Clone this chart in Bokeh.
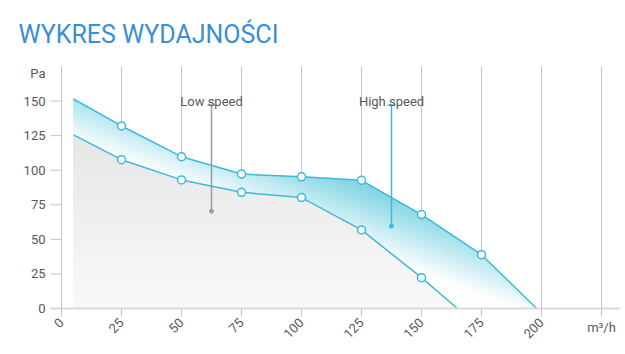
import numpy as np
from math import pi
from bokeh.plotting import figure
from bokeh.models import FixedTicker, LinearAxis, Range1d
from bokeh.core.properties import value
from bokeh.embed import file_html
from bokeh.resources import INLINE

# ---------------- data ----------------
title_text = "WYKRES WYDAJNOŚCI"
x_ticks = [0, 25, 50, 75, 100, 125, 150, 175, 200, 225]
y_ticks = [0, 25, 50, 75, 100, 125, 150]
x_unit = "m³/h"
y_unit = "Pa"
x_unit_pos = 225
y_unit_pos = 170

flow_high = [5, 25, 50, 75, 100, 125, 150, 175, 198]
pres_high = [151.5, 132, 109.8, 97.2, 95.2, 92.7, 67.9, 38.9, 0]
flow_low = [5, 25, 50, 75, 100, 125, 150, 165]
pres_low = [125.6, 107.6, 93, 84, 80.2, 56.8, 22.3, 0]

speed_labels = ["Low speed", "High speed"]
speed_x = [62.5, 137.5]
speed_top = [147, 147]
speed_point = [70.3, 59.6]

# ---------------- style ----------------
LINE = "#3cb9dc"
ANN_COLORS = ["#9b9b9b", "#3cb9dc"]
TEXT = "#595959"
GRID = "#c4c4c4"
FONT = "Roboto"
CYAN = np.array([135, 214, 228])
WHITE = np.array([255, 255, 255])
GRAY_TOP = np.array([230, 230, 230])
GRAY_BOTTOM = np.array([249, 249, 249])
X_START, X_END = -4.583, 232.917


def hexcol(c):
    c = np.clip(np.round(c), 0, 255).astype(int)
    return "#%02x%02x%02x" % tuple(c)


p = figure(width=625, height=354, output_backend="svg", toolbar_location=None,
           x_range=Range1d(X_START, X_END), y_range=Range1d(0, 175),
           min_border_left=50, min_border_right=5, min_border_top=66,
           min_border_bottom=46, title=title_text)
p.outline_line_color = None
p.background_fill_color = "white"
p.border_fill_color = "white"

p.title.text_font = FONT
p.title.text_font_style = "normal"
p.title.text_font_size = "25px"
p.title.text_color = "#3a8fd1"
p.title.align = "left"
p.title.offset = -32
p.title.standoff = 35

# ---------- gradient fills ----------
xs = np.union1d(np.linspace(flow_high[0], flow_high[-1], 900),
                np.array(flow_high + flow_low, dtype=float))
hi = np.interp(xs, flow_high, pres_high)
lo = np.interp(xs, flow_low, pres_low, right=0.0)
xg = xs[xs <= flow_low[-1]]
log = np.interp(xg, flow_low, pres_low)

N = 40
gtop = max(pres_low)
for k in range(N):
    y0 = gtop * k / N
    t = (k + 0.5) / N
    col = GRAY_BOTTOM + (GRAY_TOP - GRAY_BOTTOM) * t
    y1 = np.minimum(y0, log)
    p.varea(x=xg, y1=y1, y2=log, fill_color=hexcol(col))

ga, gb, gc, gspan = 0.902, 1.38, 171.1, 62.0
M = 40
for k in range(M):
    t0 = k / M
    if k == 0:
        yl = lo
    else:
        yl = np.maximum(lo, (gspan * t0 + gc - ga * xs) / gb)
    y1 = np.minimum(yl, hi)
    t = (k + 0.5) / M
    col = WHITE + (CYAN - WHITE) * t
    p.varea(x=xs, y1=y1, y2=hi, fill_color=hexcol(col))

# ---------- y tick marks (drawn inward from the frame edge) ----------
p.segment(x0=[X_START] * len(y_ticks), y0=y_ticks, x1=[0] * len(y_ticks),
          y1=y_ticks, line_color=GRID, line_width=1)

# ---------- curves ----------
p.line(flow_high, pres_high, line_color=LINE, line_width=1.5)
p.line(flow_low, pres_low, line_color=LINE, line_width=1.5)
p.scatter(flow_high[1:-1], pres_high[1:-1], marker="circle", size=8,
          fill_color="white", line_color=LINE, line_width=1.5)
p.scatter(flow_low[1:-1], pres_low[1:-1], marker="circle", size=8,
          fill_color="white", line_color=LINE, line_width=1.5)

# ---------- speed annotations ----------
p.segment(x0=speed_x, y0=speed_point, x1=speed_x, y1=speed_top,
          line_color=ANN_COLORS, line_width=1.5)
p.scatter(speed_x, speed_top, marker="dash", size=8, angle=0,
          line_color=ANN_COLORS, line_width=1.5)
p.scatter(speed_x, speed_point, marker="circle", size=4,
          fill_color=ANN_COLORS, line_color=ANN_COLORS)
p.text(x=speed_x, y=[150, 150], text=speed_labels, text_align="center",
       text_baseline="alphabetic", text_font=value(FONT),
       text_font_size="13px", text_color=TEXT)

# ---------- axes ----------
xa = p.xaxis[0]
xa.ticker = FixedTicker(ticks=x_ticks)
xa.major_label_overrides = {x_unit_pos: ""}
xa.major_label_orientation = pi / 4
xa.axis_line_color = "#dadada"
xa.axis_line_width = 2
xa.major_tick_line_color = GRID
xa.major_tick_out = 8
xa.major_tick_in = 0
xa.minor_tick_line_color = None
xa.major_label_text_font = FONT
xa.major_label_text_font_size = "13px"
xa.major_label_text_color = TEXT
xa.major_label_standoff = 4

# second bottom axis only carrying the unit text, pulled up next to the ticks
xu = LinearAxis(ticker=FixedTicker(ticks=[x_unit_pos]),
                major_label_overrides={x_unit_pos: x_unit},
                major_label_orientation="horizontal",
                axis_line_color=None, major_tick_line_color=None,
                minor_tick_line_color=None, major_tick_in=0, major_tick_out=0,
                major_label_standoff=-26,
                major_label_text_font=FONT, major_label_text_font_size="13px",
                major_label_text_color=TEXT)
p.add_layout(xu, "below")

ya = p.yaxis[0]
ya.ticker = FixedTicker(ticks=y_ticks + [y_unit_pos])
ya.major_label_overrides = {y_unit_pos: y_unit}
ya.axis_line_color = None
ya.major_tick_line_color = None
ya.major_tick_in = 0
ya.major_tick_out = 0
ya.minor_tick_line_color = None
ya.major_label_text_font = FONT
ya.major_label_text_font_size = "13px"
ya.major_label_text_color = TEXT
ya.major_label_standoff = 5

p.xgrid.grid_line_color = GRID
p.xgrid.grid_line_width = 1
p.ygrid.grid_line_color = None

open("out.html", "w").write(file_html(p, INLINE))
